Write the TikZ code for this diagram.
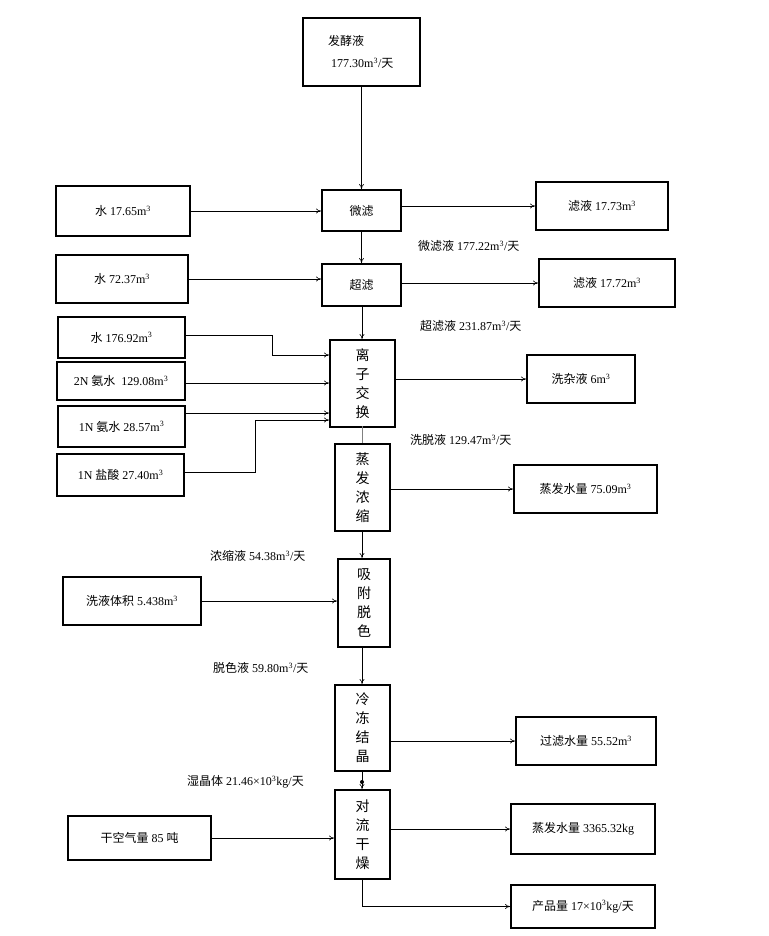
\documentclass[tikz,border=0pt]{standalone}
\usepackage{fontspec}
\setmainfont{Liberation Serif}
\newfontfamily\cjk{Noto Sans CJK SC}
\newcommand{\zh}[1]{{\cjk #1}}
\newcommand{\cub}{m\textsuperscript{3}}
\newcommand{\vt}[4]{\zh{#1}\\\zh{#2}\\\zh{#3}\\\zh{#4}}
\usetikzlibrary{arrows.meta}
\begin{document}
\begin{tikzpicture}[x=1pt,y=-1pt,font=\fontsize{12}{14}\selectfont,
  bx/.style={draw,line width=2pt,inner sep=0pt,anchor=north west},
  vb/.style={font=\fontsize{14}{19}\selectfont},
  ar/.style={-{To[length=5pt,width=5pt]},line width=0.6pt},
  ln/.style={line width=0.6pt},
  lb/.style={anchor=west,inner sep=0pt}]
\useasboundingbox (0,0) rectangle (768,936);
\newcommand{\bx}[7][]{\node[bx,minimum width={#5-#3},minimum height={#6-#4},align=center,#1] (#2) at (#3,#4) {#7};}
\bx{src}{302}{17}{419}{85}{}
\node[lb,align=left] at (328,52) {\zh{发酵液}\\[8pt]\ 177.30\cub/\zh{天}};
\bx{mf}{321}{189}{400}{230}{\zh{微滤}}
\bx{w1}{55}{185}{189}{235}{\zh{水} 17.65\cub}
\bx{o1}{535}{181}{667}{229}{\zh{滤液} 17.73\cub}
\bx{uf}{321}{263}{400}{305}{\zh{超滤}}
\bx{w2}{55}{254}{187}{302}{\zh{水} 72.37\cub}
\bx{o2}{538}{258}{674}{306}{\zh{滤液} 17.72m\textsuperscript{3}}
\bx[vb]{ix}{329}{339}{394}{426}{\vt{离}{子}{交}{换}}
\bx{i1}{57}{316}{184}{357}{\zh{水} 176.92\cub}
\bx{i2}{56}{361}{184}{399}{2N \zh{氨水}\ \ 129.08\cub}
\bx{i3}{57}{405}{184}{446}{1N \zh{氨水} 28.57\cub}
\bx{i4}{56}{453}{183}{495}{1N \zh{盐酸} 27.40\cub}
\bx{o3}{526}{354}{634}{402}{\zh{洗杂液} 6\cub}
\bx[vb]{ev}{334}{443}{389}{530}{\vt{蒸}{发}{浓}{缩}}
\bx{o4}{513}{464}{656}{512}{\zh{蒸发水量} 75.09\cub}
\bx[vb]{ad}{337}{558}{389}{646}{\vt{吸}{附}{脱}{色}}
\bx{w5}{62}{576}{200}{624}{\zh{洗液体积} 5.438\cub}
\bx[vb]{cr}{334}{684}{389}{770}{\vt{冷}{冻}{结}{晶}}
\bx{o5}{515}{716}{655}{764}{\zh{过滤水量} 55.52\cub}
\bx[vb]{dr}{334}{789}{389}{878}{\vt{对}{流}{干}{燥}}
\bx{w6}{67}{815}{210}{859}{\zh{干空气量} 85 \zh{吨}}
\bx{o6}{510}{803}{654}{853}{\zh{蒸发水量} 3365.32kg}
\bx{o7}{510}{884}{654}{927}{\zh{产品量} 17×10\textsuperscript{3}kg/\zh{天}}
% labels
\node[lb] (l1) at (418,246) {\zh{微滤液} 177.22\cub/\zh{天}};
\node[lb] (l2) at (420,326) {\zh{超滤液} 231.87\cub/\zh{天}};
\node[lb] (l3) at (410,440) {\zh{洗脱液} 129.47\cub/\zh{天}};
\node[lb] (l4) at (210,556) {\zh{浓缩液} 54.38\cub/\zh{天}};
\node[lb] (l5) at (213,668) {\zh{脱色液} 59.80\cub/\zh{天}};
\node[lb] (l6) at (187,782) {\zh{湿晶体} 21.46×10\textsuperscript{3}kg/\zh{天}};
% main flow
\draw[ar] (src.south) -- (src.south|-mf.north);
\draw[ar] (mf.south) -- (mf.south|-uf.north);
\draw[ar] (362,305) -- (362,339);
\draw[ln,gray] (362,426) -- (362,443);
\draw[ar] (362,530) -- (362,558);
\draw[ar] (362,646) -- (362,684);
\draw[ar] (362,770) -- (362,789);
\fill (362,782) circle (2pt);
% inputs
\draw[ar] (w1.east) -- (w1.east-|mf.west);
\draw[ar] (w2.east) -- (w2.east-|uf.west);
\draw[ar] (184,335) -- (272,335) -- (272,355) -- (329,355);
\draw[ar] (184,383) -- (329,383);
\draw[ar] (184,413) -- (329,413);
\draw[ar] (183,472) -- (255,472) -- (255,420) -- (329,420);
\draw[ar] (w5.east) -- (w5.east-|ad.west);
\draw[ar] (w6.east) -- (w6.east-|dr.west);
% outputs
\draw[ar] (mf.east|-o1.west) -- (o1.west);
\draw[ar] (uf.east|-o2.west) -- (o2.west);
\draw[ar] (ix.east|-o3.west) -- (o3.west);
\draw[ar] (ev.east|-o4.west) -- (o4.west);
\draw[ar] (cr.east|-o5.west) -- (o5.west);
\draw[ar] (dr.east|-o6.west) -- (o6.west);
\draw[ar] (dr.south) -- (dr.south|-o7.west) -- (o7.west);
\end{tikzpicture}
\end{document}
